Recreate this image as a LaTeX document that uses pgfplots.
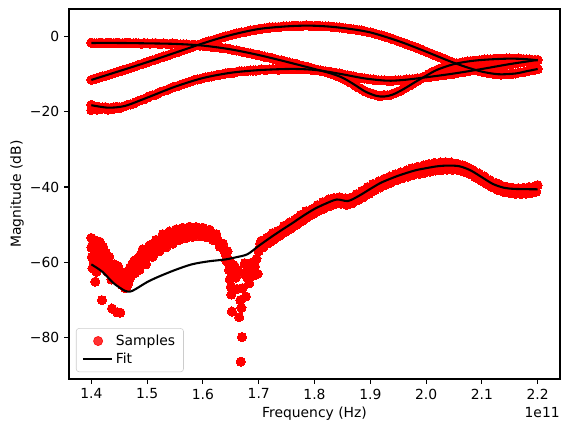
\documentclass[border=0pt]{standalone}
\usepackage{fontspec}
\setmainfont{DejaVu Sans}
\usepackage{pgfplots}
\usepackage{pgfplotstable}
\pgfplotsset{compat=1.18}

% Measured samples of the three upper traces (frequency in units of 1e11 Hz)
\pgfplotstableread{
f A B C
1.40 -1.7 -11.6 -18.2
1.41 -1.9 -11.2 -18.7
1.42 -1.8 -10.7 -18.9
1.43 -1.7 -10.3 -19.0
1.44 -1.9 -9.8 -18.9
1.45 -1.8 -9.3 -18.8
1.46 -1.8 -8.9 -18.5
1.47 -1.9 -8.4 -18.1
1.48 -1.8 -7.9 -17.5
1.49 -2.0 -7.4 -16.9
1.50 -1.9 -6.9 -16.3
1.51 -1.9 -6.4 -15.7
1.52 -2.0 -5.9 -15.1
1.53 -1.9 -5.4 -14.5
1.54 -2.1 -4.9 -13.9
1.55 -2.0 -4.4 -13.4
1.56 -2.2 -3.9 -12.9
1.57 -2.2 -3.4 -12.4
1.58 -2.3 -2.9 -11.9
1.59 -2.4 -2.4 -11.5
1.60 -2.5 -1.9 -11.1
1.61 -2.7 -1.4 -10.8
1.62 -2.8 -1.0 -10.5
1.63 -3.0 -0.5 -10.2
1.64 -3.2 -0.1 -9.9
1.65 -3.5 0.3 -9.7
1.66 -3.8 0.7 -9.5
1.67 -4.1 1.0 -9.3
1.68 -4.4 1.3 -9.2
1.69 -4.7 1.6 -9.1
1.70 -5.0 1.9 -9.0
1.71 -5.4 2.1 -8.9
1.72 -5.7 2.3 -8.8
1.73 -6.1 2.4 -8.8
1.74 -6.4 2.5 -8.7
1.75 -6.8 2.6 -8.7
1.76 -7.2 2.7 -8.7
1.77 -7.5 2.7 -8.7
1.78 -7.9 2.8 -8.8
1.79 -8.3 2.8 -8.8
1.80 -8.7 2.7 -8.9
1.81 -9.1 2.7 -9.1
1.82 -9.5 2.6 -9.3
1.83 -9.9 2.5 -9.5
1.84 -10.5 2.4 -9.8
1.85 -11.1 2.2 -10.1
1.86 -11.9 2.0 -10.4
1.87 -12.8 1.8 -10.7
1.88 -13.7 1.6 -11.0
1.89 -14.6 1.3 -11.2
1.90 -15.2 1.0 -11.4
1.91 -15.6 0.6 -11.6
1.92 -15.8 0.2 -11.7
1.93 -15.7 -0.3 -11.8
1.94 -15.3 -0.8 -11.8
1.95 -14.7 -1.3 -11.7
1.96 -13.9 -1.8 -11.6
1.97 -13.1 -2.4 -11.5
1.98 -12.2 -2.9 -11.3
1.99 -11.3 -3.5 -11.1
2.00 -10.5 -4.1 -10.9
2.01 -9.6 -4.7 -10.7
2.02 -8.9 -5.3 -10.5
2.03 -8.3 -5.9 -10.3
2.04 -7.8 -6.5 -10.1
2.05 -7.4 -7.1 -9.9
2.06 -7.1 -7.6 -9.6
2.07 -6.8 -8.1 -9.4
2.08 -6.6 -8.6 -9.1
2.09 -6.5 -9.0 -8.9
2.10 -6.3 -9.4 -8.7
2.11 -6.2 -9.7 -8.4
2.12 -6.1 -9.9 -8.2
2.13 -6.0 -10.1 -7.9
2.14 -6.0 -10.1 -7.7
2.15 -5.9 -10.0 -7.4
2.16 -6.0 -9.9 -7.2
2.17 -6.0 -9.6 -6.9
2.18 -6.1 -9.3 -6.7
2.19 -6.3 -9.0 -6.5
2.20 -6.4 -8.7 -6.3
}\uppersamples

% Intermediate frequency points of the upper traces
\pgfplotstableread{
f A B C
1.405 -1.9 -11.3 -18.6
1.415 -1.7 -10.9 -18.9
1.425 -1.9 -10.5 -18.8
1.435 -1.8 -10.0 -19.1
1.445 -1.7 -9.6 -18.7
1.455 -1.9 -9.1 -18.8
1.465 -1.7 -8.6 -18.2
1.475 -1.9 -8.2 -17.9
1.485 -1.9 -7.6 -17.1
1.495 -1.8 -7.2 -16.7
1.505 -2.0 -6.6 -15.9
1.515 -1.8 -6.2 -15.5
1.525 -2.1 -5.6 -14.7
1.535 -2.0 -5.2 -14.3
1.545 -1.9 -4.6 -13.6
1.555 -2.2 -4.2 -13.2
1.565 -2.1 -3.6 -12.6
1.575 -2.3 -3.2 -12.2
1.585 -2.3 -2.6 -11.6
1.595 -2.5 -2.2 -11.4
1.605 -2.6 -1.6 -10.9
1.615 -2.8 -1.2 -10.7
1.625 -2.9 -0.7 -10.3
1.635 -3.2 -0.3 -10.1
1.645 -3.3 0.1 -9.7
1.655 -3.7 0.5 -9.7
1.665 -3.9 0.9 -9.3
1.675 -4.3 1.1 -9.3
1.685 -4.5 1.5 -9.1
1.695 -4.9 1.7 -9.1
1.705 -5.2 2.0 -8.8
1.715 -5.6 2.2 -8.9
1.725 -5.9 2.4 -8.7
1.735 -6.3 2.4 -8.9
1.745 -6.6 2.6 -8.6
1.755 -7.0 2.6 -8.8
1.765 -7.3 2.8 -8.6
1.775 -7.8 2.7 -8.8
1.785 -8.1 2.9 -8.7
1.795 -8.5 2.7 -8.9
1.805 -8.9 2.8 -9.0
1.815 -9.3 2.6 -9.2
1.825 -9.7 2.6 -9.4
1.835 -10.2 2.4 -9.7
1.845 -10.8 2.3 -9.9
1.855 -11.5 2.1 -10.3
1.865 -12.3 1.9 -10.5
1.875 -13.3 1.7 -10.9
1.885 -14.1 1.5 -11.1
1.895 -14.9 1.1 -11.3
1.905 -15.3 0.8 -11.5
1.915 -15.8 0.4 -11.7
1.925 -15.6 0.0 -11.7
1.935 -15.6 -0.5 -11.9
1.945 -15.0 -1.0 -11.7
1.955 -14.4 -1.6 -11.7
1.965 -13.5 -2.1 -11.5
1.975 -12.7 -2.6 -11.4
1.985 -11.8 -3.2 -11.2
1.995 -10.9 -3.8 -11.0
2.005 -10.0 -4.4 -10.8
2.015 -9.3 -5.0 -10.6
2.025 -8.6 -5.6 -10.4
2.035 -8.0 -6.2 -10.2
2.045 -7.6 -6.8 -10.0
2.055 -7.2 -7.3 -9.8
2.065 -7.0 -7.9 -9.5
2.075 -6.7 -8.3 -9.3
2.085 -6.5 -8.8 -9.0
2.095 -6.4 -9.2 -8.8
2.105 -6.2 -9.6 -8.5
2.115 -6.2 -9.8 -8.3
2.125 -6.0 -10.0 -8.0
2.135 -6.0 -10.2 -7.8
2.145 -5.9 -10.0 -7.5
2.155 -6.0 -10.0 -7.3
2.165 -5.9 -9.7 -7.0
2.175 -6.1 -9.5 -6.8
2.185 -6.2 -9.1 -6.6
2.195 -6.3 -8.9 -6.4
}\uppermid

% Extra scatter at the low end of trace C
\pgfplotstableread{
f C
1.400 -19.6
1.405 -19.3
1.410 -19.5
1.415 -19.4
1.420 -19.2
1.430 -19.5
1.440 -19.3
1.450 -19.1
}\cextra

% Samples of the lowest trace
\pgfplotstableread{
f D
1.400 -53.5
1.400 -56.0
1.401 -58.5
1.402 -61.5
1.403 -55.0
1.404 -59.5
1.405 -54.0
1.406 -57.0
1.407 -65.1
1.408 -60.0
1.409 -62.5
1.410 -55.5
1.412 -58.0
1.413 -60.0
1.414 -57.0
1.415 -54.5
1.417 -56.5
1.418 -59.5
1.419 -70.0
1.420 -57.5
1.421 -55.8
1.423 -61.0
1.425 -59.0
1.426 -57.5
1.427 -60.5
1.429 -62.5
1.431 -59.5
1.432 -58.5
1.433 -61.5
1.435 -63.0
1.436 -64.5
1.437 -72.2
1.438 -60.5
1.440 -62.0
1.441 -60.5
1.442 -64.0
1.444 -61.5
1.446 -73.2
1.447 -63.5
1.448 -61.0
1.449 -65.0
1.451 -62.5
1.452 -73.3
1.453 -64.5
1.454 -62.5
1.455 -66.0
1.457 -63.0
1.459 -65.5
1.460 -66.8
1.461 -64.0
1.463 -66.5
1.465 -62.5
1.466 -65.5
1.467 -64.5
1.469 -61.5
1.470 -64.0
1.471 -63.5
1.473 -60.5
1.474 -61.5
1.475 -62.5
1.477 -59.5
1.478 -62.8
1.479 -61.5
1.481 -60.0
1.483 -59.0
1.485 -61.0
1.486 -62.0
1.488 -58.0
1.490 -60.0
1.492 -56.5
1.493 -57.5
1.496 -59.5
1.498 -60.5
1.499 -56.5
1.502 -58.5
1.504 -55.5
1.505 -56.0
1.508 -57.5
1.510 -58.5
1.511 -55.0
1.514 -57.0
1.516 -54.0
1.517 -54.5
1.520 -56.0
1.522 -57.0
1.523 -54.0
1.526 -55.5
1.528 -52.5
1.529 -53.5
1.532 -55.0
1.534 -56.0
1.535 -53.0
1.538 -54.5
1.540 -51.8
1.541 -52.5
1.544 -54.0
1.546 -55.0
1.547 -52.5
1.550 -53.5
1.552 -51.2
1.553 -52.0
1.556 -53.0
1.558 -54.0
1.559 -51.5
1.562 -53.0
1.564 -50.8
1.565 -51.8
1.568 -52.8
1.570 -53.5
1.571 -51.2
1.574 -52.5
1.576 -50.5
1.577 -51.0
1.580 -52.3
1.582 -53.2
1.583 -51.0
1.586 -52.0
1.588 -50.6
1.589 -51.3
1.592 -52.3
1.594 -53.0
1.595 -51.2
1.598 -52.5
1.600 -50.8
1.601 -51.5
1.604 -52.2
1.606 -53.3
1.607 -51.6
1.610 -52.8
1.612 -51.3
1.613 -52.0
1.616 -53.2
1.618 -54.0
1.619 -52.6
1.622 -53.8
1.624 -52.5
1.625 -53.5
1.628 -54.5
1.630 -55.8
1.631 -54.8
1.634 -56.0
1.636 -55.0
1.637 -56.5
1.640 -57.5
1.642 -59.5
1.643 -58.5
1.644 -57.0
1.645 -60.0
1.647 -62.0
1.648 -64.5
1.649 -59.8
1.650 -66.5
1.651 -68.5
1.652 -73.0
1.655 -63.0
1.655 -60.7
1.657 -61.0
1.659 -64.0
1.661 -67.0
1.663 -62.0
1.665 -74.5
1.667 -70.0
1.668 -86.3
1.670 -79.8
1.669 -72.0
1.671 -66.8
1.673 -63.0
1.675 -60.2
1.677 -69.0
1.679 -64.0
1.681 -61.5
1.683 -65.5
1.685 -62.0
1.688 -60.0
1.690 -63.5
1.693 -61.0
1.696 -59.0
1.698 -63.0
1.700 -57.0
1.702 -56.0
1.705 -54.2
1.710 -55.6
1.715 -53.4
1.720 -54.6
1.725 -52.2
1.730 -53.3
1.735 -51.6
1.740 -52.6
1.745 -50.3
1.750 -51.5
1.755 -49.4
1.760 -50.6
1.765 -48.6
1.770 -49.5
1.775 -47.4
1.780 -48.8
1.785 -46.4
1.790 -47.6
1.795 -45.9
1.800 -46.9
1.805 -44.8
1.810 -45.9
1.815 -44.0
1.820 -45.3
1.825 -43.3
1.830 -44.6
1.835 -42.9
1.840 -44.1
1.845 -42.7
1.850 -44.3
1.855 -43.0
1.860 -44.6
1.865 -42.8
1.870 -43.9
1.875 -41.9
1.880 -43.1
1.885 -41.0
1.890 -42.2
1.895 -40.0
1.900 -41.3
1.905 -39.2
1.910 -40.4
1.915 -38.5
1.920 -39.7
1.925 -37.8
1.930 -39.0
1.935 -37.2
1.940 -38.4
1.945 -36.6
1.950 -37.9
1.955 -36.1
1.960 -37.3
1.965 -35.6
1.970 -36.8
1.975 -35.0
1.980 -36.4
1.985 -34.6
1.990 -36.1
1.995 -34.3
2.000 -35.8
2.005 -33.9
2.010 -35.5
2.015 -33.6
2.020 -35.2
2.025 -33.5
2.030 -35.1
2.035 -33.4
2.040 -35.0
2.045 -33.5
2.050 -35.1
2.055 -33.8
2.060 -35.3
2.065 -34.2
2.070 -35.9
2.075 -34.8
2.080 -36.6
2.085 -35.6
2.090 -37.5
2.095 -36.4
2.100 -38.4
2.105 -37.2
2.110 -39.2
2.115 -38.2
2.120 -40.1
2.125 -38.9
2.130 -40.8
2.135 -39.6
2.140 -41.3
2.145 -40.0
2.150 -41.6
2.155 -40.2
2.160 -41.8
2.165 -40.3
2.170 -41.9
2.175 -40.2
2.180 -41.7
2.185 -40.0
2.190 -41.5
2.195 -39.8
2.200 -39.5
}\lowersamples

% Intermediate frequency points of the lowest trace above 1.7e11 Hz
\pgfplotstableread{
f D
1.7025 -55.0
1.7075 -56.0
1.7125 -54.0
1.7175 -54.9
1.7225 -53.0
1.7275 -53.9
1.7325 -52.0
1.7375 -52.9
1.7425 -51.0
1.7475 -51.9
1.7525 -50.0
1.7575 -51.0
1.7625 -49.1
1.7675 -50.0
1.7725 -48.1
1.7775 -49.0
1.7825 -47.1
1.7875 -48.0
1.7925 -46.2
1.7975 -47.1
1.8025 -45.4
1.8075 -46.3
1.8125 -44.7
1.8175 -45.7
1.8225 -44.0
1.8275 -45.0
1.8325 -43.5
1.8375 -44.5
1.8425 -43.1
1.8475 -44.4
1.8525 -43.2
1.8575 -44.7
1.8625 -43.3
1.8675 -44.3
1.8725 -42.6
1.8775 -43.5
1.8825 -41.8
1.8875 -42.7
1.8925 -40.9
1.8975 -41.8
1.9025 -40.0
1.9075 -40.9
1.9125 -39.1
1.9175 -40.1
1.9225 -38.4
1.9275 -39.4
1.9325 -37.7
1.9375 -38.8
1.9425 -37.1
1.9475 -38.2
1.9525 -36.6
1.9575 -37.7
1.9625 -36.1
1.9675 -37.2
1.9725 -35.6
1.9775 -36.8
1.9825 -35.2
1.9875 -36.5
1.9925 -34.9
1.9975 -36.2
2.0025 -34.6
2.0075 -35.9
2.0125 -34.3
2.0175 -35.6
2.0225 -34.2
2.0275 -35.5
2.0325 -34.1
2.0375 -35.4
2.0425 -34.0
2.0475 -35.4
2.0525 -34.1
2.0575 -35.5
2.0625 -34.3
2.0675 -35.9
2.0725 -34.8
2.0775 -36.5
2.0825 -35.5
2.0875 -37.3
2.0925 -36.4
2.0975 -38.2
2.1025 -37.3
2.1075 -39.1
2.1125 -38.2
2.1175 -40.0
2.1225 -39.1
2.1275 -40.7
2.1325 -39.6
2.1375 -41.1
2.1425 -40.0
2.1475 -41.3
2.1525 -40.6
2.1575 -41.6
2.1625 -40.7
2.1675 -41.7
2.1725 -40.6
2.1775 -41.7
2.1825 -40.6
2.1875 -41.6
2.1925 -40.4
2.1975 -41.2
}\lowermid

% Fitted model curves
\pgfplotstableread{
f v
1.40 -1.8
1.45 -1.8
1.50 -1.9
1.55 -2.05
1.60 -2.5
1.65 -3.5
1.70 -5.0
1.75 -6.8
1.80 -8.7
1.83 -9.9
1.85 -11.0
1.87 -12.7
1.89 -14.6
1.91 -15.8
1.925 -16.0
1.94 -15.5
1.96 -14.0
1.98 -12.2
2.00 -10.5
2.02 -8.9
2.05 -7.4
2.08 -6.6
2.11 -6.2
2.15 -5.95
2.18 -6.1
2.20 -6.4
}\fitA

\pgfplotstableread{
f v
1.40 -11.6
1.50 -6.9
1.60 -1.9
1.65 0.3
1.70 1.9
1.75 2.6
1.79 2.8
1.83 2.5
1.87 1.8
1.90 1.0
1.93 -0.3
1.96 -1.8
2.00 -4.1
2.04 -6.5
2.07 -8.1
2.10 -9.4
2.13 -10.1
2.16 -9.9
2.18 -9.3
2.20 -8.7
}\fitB

\pgfplotstableread{
f v
1.40 -18.3
1.43 -18.95
1.46 -18.5
1.50 -16.3
1.55 -13.4
1.60 -11.1
1.65 -9.7
1.70 -9.0
1.75 -8.7
1.78 -8.75
1.81 -9.1
1.85 -10.1
1.89 -11.2
1.93 -11.8
1.96 -11.6
2.00 -10.9
2.05 -9.9
2.10 -8.7
2.15 -7.4
2.20 -6.3
}\fitC

\pgfplotstableread{
f v
1.400 -60.5
1.420 -62.5
1.440 -65.5
1.460 -67.5
1.470 -67.7
1.480 -67.0
1.500 -65.2
1.520 -63.8
1.550 -62.0
1.580 -60.5
1.610 -59.7
1.640 -59.2
1.660 -58.6
1.680 -57.8
1.700 -55.6
1.720 -53.5
1.740 -51.5
1.760 -49.6
1.780 -47.6
1.800 -45.8
1.820 -44.4
1.840 -43.3
1.860 -43.7
1.880 -42.3
1.900 -40.5
1.920 -38.8
1.950 -37.0
1.980 -35.6
2.000 -35.0
2.020 -34.5
2.040 -34.3
2.060 -34.5
2.080 -35.6
2.100 -37.4
2.120 -39.2
2.140 -40.2
2.160 -40.5
2.200 -40.6
}\fitD

\begin{document}
\begin{tikzpicture}
\begin{axis}[
  scale only axis,
  width=353.5pt, height=266.4pt,
  xmin=1.36, xmax=2.24, ymin=-90.9, ymax=7.2,
  clip marker paths=true,
  xtick={1.4,1.5,1.6,1.7,1.8,1.9,2.0,2.1,2.2},
  xticklabels={1.4,1.5,1.6,1.7,1.8,1.9,2.0,2.1,2.2},
  ytick={-80,-60,-40,-20,0},
  yticklabels={−80,−60,−40,−20,0},
  tick align=outside, xtick pos=bottom, ytick pos=left,
  major tick length=3.5pt,
  every tick/.style={black, line width=0.8pt},
  axis line style={line width=0.8pt},
  xlabel={Frequency (Hz)},
  ylabel={Magnitude (dB)},
  xlabel style={at={(axis description cs:0.5,0)}, anchor=center, yshift=-25pt},
  ylabel style={at={(axis description cs:-0.106,0.5)}, anchor=center},
  legend style={at={(0,0)}, anchor=south west, xshift=5pt, yshift=5pt,
    draw=black!20, rounded corners=2pt, fill=white, fill opacity=0.8,
    text opacity=1, inner xsep=4pt, inner ysep=2.5pt},
  legend cell align=left,
  samp/.style={only marks, color=red, mark=*, mark size=3.3pt,
    mark options={draw=red, fill=red, line width=0pt}},
  fitline/.style={black, line width=1.5pt, smooth, no marks},
]
\addplot[samp, legend image code/.code={\fill[red] (11pt,0pt) circle (3.3pt);}]
  table[x=f, y=A] {\uppersamples};
\addlegendentry{Samples}
\addplot[samp, forget plot] table[x=f, y=A] {\uppermid};
\addplot[samp, forget plot] table[x=f, y=B] {\uppersamples};
\addplot[samp, forget plot] table[x=f, y=B] {\uppermid};
\addplot[samp, forget plot] table[x=f, y=C] {\uppersamples};
\addplot[samp, forget plot] table[x=f, y=C] {\uppermid};
\addplot[samp, forget plot] table[x=f, y=C] {\cextra};
\addplot[samp, forget plot] table[x=f, y=D] {\lowersamples};
\addplot[samp, forget plot] table[x=f, y=D] {\lowermid};

\addplot[fitline, legend image code/.code={\draw[black, line width=1.5pt] (0pt,0pt) -- (21pt,0pt);}]
  table[x=f, y=v] {\fitA};
\addlegendentry{Fit}
\addplot[fitline, forget plot] table[x=f, y=v] {\fitB};
\addplot[fitline, forget plot] table[x=f, y=v] {\fitC};
\addplot[fitline, forget plot] table[x=f, y=v] {\fitD};
\end{axis}
\node[anchor=north east, inner sep=0pt] at ([yshift=-20pt]current axis.south east) {1e11};
\path ([xshift=-49.7pt,yshift=-38.2pt]current axis.south west)
  rectangle ([xshift=10.1pt,yshift=6.5pt]current axis.north east);
\end{tikzpicture}
\end{document}
